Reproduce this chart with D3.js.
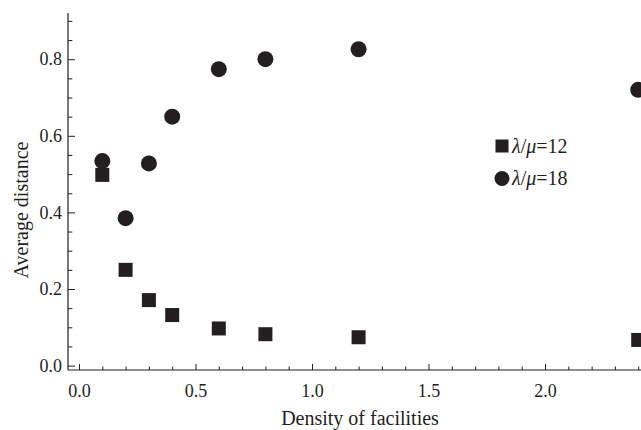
<!DOCTYPE html>
<html>
<head>
<meta charset="utf-8">
<script src="https://cdn.jsdelivr.net/npm/d3@7"></script>
<style>
  body { margin: 0; background: #fff; }
</style>
</head>
<body>
<div id="chart"></div>
<script>
const density = [0.1, 0.2, 0.3, 0.4, 0.6, 0.8, 1.2, 2.4];
const ratio12 = [0.498, 0.250, 0.171, 0.132, 0.097, 0.082, 0.074, 0.067];
const ratio18 = [0.534, 0.385, 0.528, 0.650, 0.774, 0.800, 0.826, 0.720];
const xMajor = [0, 0.5, 1, 1.5, 2];
const yMajor = [0, 0.2, 0.4, 0.6, 0.8];

const width = 641, height = 430;
const ink = "#231f20";
const serif = "'Liberation Serif', 'Times New Roman', serif";

const svg = d3.select("#chart").append("svg")
    .attr("width", width)
    .attr("height", height);

const x = d3.scaleLinear().domain([0, 2.4]).range([79, 638.2]);
const y = d3.scaleLinear().domain([0, 0.8]).range([365.6, 59.2]);

const axisY0 = 370;   // where the x axis line sits
const axisX0 = 68;    // where the y axis line sits

// minor ticks first, major ticks with labels on top
const xMinor = d3.range(0, 2.45, 0.1).filter(v => Math.abs(v * 2 - Math.round(v * 2)) > 1e-6);
const yMinor = d3.range(0, 0.91, 0.05).filter(v => Math.abs(v * 5 - Math.round(v * 5)) > 1e-6);

const xAxis = svg.append("g").attr("transform", `translate(0,${axisY0})`);
xAxis.append("g")
    .call(d3.axisBottom(x).tickValues(xMinor).tickSizeInner(-3.5).tickSizeOuter(0).tickFormat(""));
xAxis.append("g")
    .call(d3.axisBottom(x).tickValues(xMajor).tickSizeInner(-6).tickSizeOuter(0).tickPadding(14).tickFormat(d3.format(".1f")));
xAxis.selectAll(".domain").remove();
xAxis.append("line")
    .attr("x1", axisX0).attr("x2", width)
    .attr("stroke", ink).attr("stroke-width", 1.2);

const yAxis = svg.append("g").attr("transform", `translate(${axisX0},0)`);
yAxis.append("g")
    .call(d3.axisLeft(y).tickValues(yMinor).tickSizeInner(-4.3).tickSizeOuter(0).tickFormat(""));
yAxis.append("g")
    .call(d3.axisLeft(y).tickValues(yMajor).tickSizeInner(-7).tickSizeOuter(0).tickPadding(6).tickFormat(d3.format(".1f")));
yAxis.selectAll(".domain").remove();
yAxis.append("line")
    .attr("y1", 13).attr("y2", axisY0)
    .attr("stroke", ink).attr("stroke-width", 1.2);

svg.selectAll(".tick line").attr("stroke", ink).attr("stroke-width", 1);
svg.selectAll(".tick text")
    .style("font-size", "18px")
    .style("font-family", serif)
    .attr("fill", ink);

// axis titles
svg.append("text")
    .attr("x", 360).attr("y", 425)
    .attr("text-anchor", "middle")
    .style("font-family", serif)
    .style("font-size", "20px")
    .attr("fill", ink)
    .text("Density of facilities");

svg.append("text")
    .attr("transform", "translate(28,210) rotate(-90)")
    .attr("text-anchor", "middle")
    .style("font-family", serif)
    .style("font-size", "20px")
    .attr("fill", ink)
    .text("Average distance");

// points
const sq = 14;
svg.append("g").selectAll("rect")
    .data(density.map((d, i) => [d, ratio12[i]]))
    .join("rect")
    .attr("x", d => x(d[0]) - sq / 2)
    .attr("y", d => y(d[1]) - sq / 2)
    .attr("width", sq).attr("height", sq)
    .attr("fill", ink);

svg.append("g").selectAll("circle")
    .data(density.map((d, i) => [d, ratio18[i]]))
    .join("circle")
    .attr("cx", d => x(d[0]))
    .attr("cy", d => y(d[1]))
    .attr("r", 8)
    .attr("fill", ink);

// legend
const legend = svg.append("g").attr("transform", "translate(502,0)");
legend.append("rect")
    .attr("x", -6.5).attr("y", 146 - 6.5)
    .attr("width", 13).attr("height", 13)
    .attr("fill", ink);
legend.append("circle")
    .attr("cx", 0).attr("cy", 178.5).attr("r", 7.5)
    .attr("fill", ink);

[["12", 146], ["18", 178.5]].forEach(([v, cy]) => {
    const t = legend.append("text")
        .attr("x", 10).attr("y", cy)
        .attr("dy", "0.33em")
        .style("font-family", serif)
        .style("font-size", "20px")
        .attr("fill", ink);
    t.append("tspan").style("font-style", "italic").text("λ");
    t.append("tspan").text("/");
    t.append("tspan").style("font-style", "italic").text("μ");
    t.append("tspan").text("=" + v);
});
</script>
</body>
</html>
